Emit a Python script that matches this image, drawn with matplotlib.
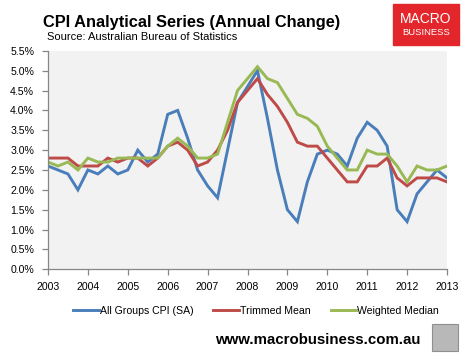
import numpy as np
import matplotlib
matplotlib.use("Agg")
import matplotlib.pyplot as plt
from matplotlib.patches import Rectangle
from matplotlib.ticker import FuncFormatter

# quarterly observations, 2003 to 2013
quarters = [2003 + q / 4 for q in range(41)]

all_groups_cpi = [2.6, 2.5, 2.4, 2.0, 2.5, 2.4, 2.6, 2.4, 2.5, 3.0, 2.7, 2.9,
                  3.9, 4.0, 3.3, 2.5, 2.1, 1.8, 3.0, 4.2, 4.6, 5.0, 3.8, 2.5,
                  1.5, 1.2, 2.2, 2.9, 3.0, 2.9, 2.6, 3.3, 3.7, 3.5, 3.1, 1.5,
                  1.2, 1.9, 2.2, 2.5, 2.3]
trimmed_mean = [2.8, 2.8, 2.8, 2.6, 2.6, 2.6, 2.8, 2.7, 2.8, 2.8, 2.6, 2.8,
                3.1, 3.2, 3.0, 2.6, 2.7, 3.0, 3.5, 4.2, 4.5, 4.8, 4.4, 4.1,
                3.7, 3.2, 3.1, 3.1, 2.8, 2.5, 2.2, 2.2, 2.6, 2.6, 2.8, 2.3,
                2.1, 2.3, 2.3, 2.3, 2.2]
weighted_median = [2.7, 2.6, 2.7, 2.5, 2.8, 2.7, 2.7, 2.8, 2.8, 2.8, 2.8, 2.8,
                   3.1, 3.3, 3.1, 2.8, 2.8, 2.9, 3.7, 4.5, 4.8, 5.1, 4.8, 4.7,
                   4.3, 3.9, 3.8, 3.6, 3.1, 2.8, 2.5, 2.5, 3.0, 2.9, 2.9, 2.6,
                   2.2, 2.6, 2.5, 2.5, 2.6]

series_names = ["All Groups CPI (SA)", "Trimmed Mean", "Weighted Median"]
colors = ["#4A7EBB", "#BE4B48", "#98B954"]
year_ticks = list(range(2003, 2014))
pct_ticks = [i / 2 for i in range(12)]

plt.rcParams['font.family'] = ['Liberation Sans', 'DejaVu Sans']

fig = plt.figure(figsize=(4.64, 3.55), dpi=100)
ax = fig.add_axes([48 / 464, 1 - 269.3 / 355, 399 / 464, (269.3 - 50.8) / 355])
ax.set_facecolor("#F2F2F2")

lines = []
for vals, name, c in zip([all_groups_cpi, trimmed_mean, weighted_median], series_names, colors):
  ln, = ax.plot(quarters, vals, color=c, lw=2.1, label=name, solid_joinstyle='miter')
  lines.append(ln)

ax.set_xlim(2003, 2013)
ax.set_ylim(0, 5.5)
ax.set_xticks(year_ticks)
ax.set_yticks(pct_ticks)
ax.yaxis.set_major_formatter(FuncFormatter(lambda v, p: f"{v:.1f}%"))
for s in ["top", "right"]:
  ax.spines[s].set_visible(False)
for s in ["left", "bottom"]:
  ax.spines[s].set_color("#868686")
  ax.spines[s].set_linewidth(0.9)
ax.tick_params(axis='both', colors="#868686", labelcolor="black", labelsize=7.6, length=4, width=0.9)
ax.tick_params(axis='y', pad=6)
ax.tick_params(axis='x', pad=5)

# titles
fig.text(43 / 464, 1 - 27 / 355, "CPI Analytical Series (Annual Change)", fontsize=11.8,
         fontweight='bold', ha='left', va='baseline')
fig.text(47 / 464, 1 - 40 / 355, "Source: Australian Bureau of Statistics", fontsize=8,
         ha='left', va='baseline')

# logo box
fig.patches.append(Rectangle((393 / 464, 1 - 45 / 355), 66 / 464, 41 / 355,
                             transform=fig.transFigure, color="#E3262B", zorder=0))
fig.text(426 / 464, 1 - 19 / 355, "MACRO", color="white", fontsize=10, ha='center', va='center')
fig.text(426 / 464, 1 - 32.5 / 355, "BUSINESS", color="white", fontsize=6.8, ha='center', va='center')

# legend
fig.legend(handles=lines, loc='center', bbox_to_anchor=(256 / 464, 1 - 311 / 355), ncol=3,
           frameon=False, fontsize=7.6, handlelength=2.4, handletextpad=0.1, columnspacing=1.9)

# footer
fig.text(420 / 464, 1 - 340 / 355, "www.macrobusiness.com.au", fontsize=10.8,
         fontweight='bold', ha='right', va='center')
fig.patches.append(Rectangle((432 / 464, 1 - 351 / 355), 26 / 464, 27 / 355,
                             transform=fig.transFigure, facecolor="#B8B8B8",
                             edgecolor="#909090", lw=0.8))

fig.savefig("out.png", dpi=100)
